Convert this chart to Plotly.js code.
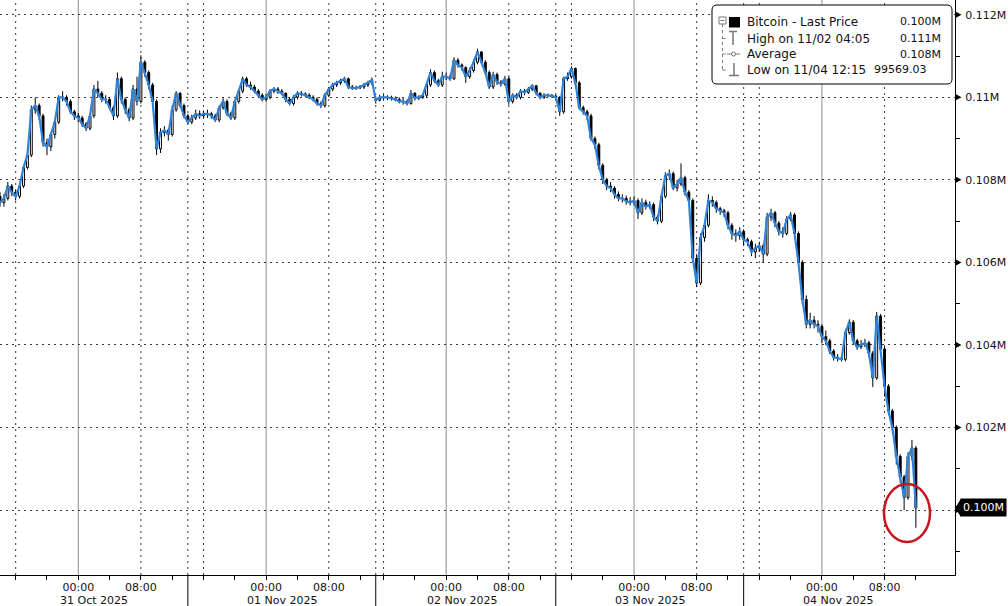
<!DOCTYPE html>
<html><head><meta charset="utf-8">
<script src="https://cdn.plot.ly/plotly-3.0.1.min.js"></script>
<style>html,body{margin:0;padding:0;background:#fff;}#chart{width:1008px;height:606px;}</style>
</head><body><div id="chart"></div>
<script>
// 30-minute bars, Bitcoin last price (USD thousands)
const barTimes = [
"2025-10-30 14:00","2025-10-30 14:30","2025-10-30 15:00","2025-10-30 15:30","2025-10-30 16:00","2025-10-30 16:30","2025-10-30 17:00","2025-10-30 17:30","2025-10-30 18:00","2025-10-30 18:30",
"2025-10-30 19:00","2025-10-30 19:30","2025-10-30 20:00","2025-10-30 20:30","2025-10-30 21:00","2025-10-30 21:30","2025-10-30 22:00","2025-10-30 22:30","2025-10-30 23:00","2025-10-30 23:30",
"2025-10-31 00:00","2025-10-31 00:30","2025-10-31 01:00","2025-10-31 01:30","2025-10-31 02:00","2025-10-31 02:30","2025-10-31 03:00","2025-10-31 03:30","2025-10-31 04:00","2025-10-31 04:30",
"2025-10-31 05:00","2025-10-31 05:30","2025-10-31 06:00","2025-10-31 06:30","2025-10-31 07:00","2025-10-31 07:30","2025-10-31 08:00","2025-10-31 08:30","2025-10-31 09:00","2025-10-31 09:30",
"2025-10-31 10:00","2025-10-31 10:30","2025-10-31 11:00","2025-10-31 11:30","2025-10-31 12:00","2025-10-31 12:30","2025-10-31 13:00","2025-10-31 13:30","2025-10-31 14:00","2025-10-31 14:30",
"2025-10-31 15:00","2025-10-31 15:30","2025-10-31 16:00","2025-10-31 16:30","2025-10-31 17:00","2025-10-31 17:30","2025-10-31 18:00","2025-10-31 18:30","2025-10-31 19:00","2025-10-31 19:30",
"2025-10-31 20:00","2025-10-31 20:30","2025-10-31 21:00","2025-10-31 21:30","2025-10-31 22:00","2025-10-31 22:30","2025-10-31 23:00","2025-10-31 23:30",
"2025-11-01 00:00","2025-11-01 00:30","2025-11-01 01:00","2025-11-01 01:30","2025-11-01 02:00","2025-11-01 02:30","2025-11-01 03:00","2025-11-01 03:30","2025-11-01 04:00","2025-11-01 04:30",
"2025-11-01 05:00","2025-11-01 05:30","2025-11-01 06:00","2025-11-01 06:30","2025-11-01 07:00","2025-11-01 07:30","2025-11-01 08:00","2025-11-01 08:30","2025-11-01 09:00","2025-11-01 09:30",
"2025-11-01 10:00","2025-11-01 10:30","2025-11-01 11:00","2025-11-01 11:30","2025-11-01 12:00","2025-11-01 12:30","2025-11-01 13:00","2025-11-01 13:30",
"2025-11-01 15:00","2025-11-01 15:30","2025-11-01 16:00","2025-11-01 16:30","2025-11-01 17:00","2025-11-01 17:30","2025-11-01 18:00","2025-11-01 18:30","2025-11-01 19:00","2025-11-01 19:30",
"2025-11-01 20:00","2025-11-01 20:30","2025-11-01 21:00","2025-11-01 21:30","2025-11-01 22:00","2025-11-01 22:30","2025-11-01 23:00","2025-11-01 23:30",
"2025-11-02 00:00","2025-11-02 00:30","2025-11-02 01:00","2025-11-02 01:30","2025-11-02 02:00","2025-11-02 02:30","2025-11-02 03:00","2025-11-02 03:30","2025-11-02 04:00","2025-11-02 04:30",
"2025-11-02 05:00","2025-11-02 05:30","2025-11-02 06:00","2025-11-02 06:30","2025-11-02 07:00","2025-11-02 07:30","2025-11-02 08:00","2025-11-02 08:30","2025-11-02 09:00","2025-11-02 09:30",
"2025-11-02 10:00","2025-11-02 10:30","2025-11-02 11:00","2025-11-02 11:30","2025-11-02 12:00","2025-11-02 12:30","2025-11-02 13:00","2025-11-02 13:30","2025-11-02 14:00","2025-11-02 14:30",
"2025-11-02 15:00","2025-11-02 15:30","2025-11-02 16:00","2025-11-02 16:30","2025-11-02 17:00","2025-11-02 17:30","2025-11-02 18:00","2025-11-02 18:30","2025-11-02 19:00","2025-11-02 19:30",
"2025-11-02 20:00","2025-11-02 20:30","2025-11-02 21:00","2025-11-02 21:30","2025-11-02 22:00","2025-11-02 22:30","2025-11-02 23:00","2025-11-02 23:30",
"2025-11-03 00:00","2025-11-03 00:30","2025-11-03 01:00","2025-11-03 01:30","2025-11-03 02:00","2025-11-03 02:30","2025-11-03 03:00","2025-11-03 03:30","2025-11-03 04:00","2025-11-03 04:30",
"2025-11-03 05:00","2025-11-03 05:30","2025-11-03 06:00","2025-11-03 06:30","2025-11-03 07:00","2025-11-03 07:30","2025-11-03 08:00","2025-11-03 08:30","2025-11-03 09:00","2025-11-03 09:30",
"2025-11-03 10:00","2025-11-03 10:30","2025-11-03 11:00","2025-11-03 11:30","2025-11-03 12:00","2025-11-03 12:30","2025-11-03 13:00","2025-11-03 13:30","2025-11-03 14:00","2025-11-03 14:30",
"2025-11-03 15:00","2025-11-03 15:30","2025-11-03 16:00","2025-11-03 16:30","2025-11-03 17:00","2025-11-03 17:30","2025-11-03 18:00","2025-11-03 18:30","2025-11-03 19:00","2025-11-03 19:30",
"2025-11-03 20:00","2025-11-03 20:30","2025-11-03 21:00","2025-11-03 21:30","2025-11-03 22:00","2025-11-03 22:30","2025-11-03 23:00","2025-11-03 23:30",
"2025-11-04 00:00","2025-11-04 00:30","2025-11-04 01:00","2025-11-04 01:30","2025-11-04 02:00","2025-11-04 02:30","2025-11-04 03:00","2025-11-04 03:30","2025-11-04 04:00","2025-11-04 04:30",
"2025-11-04 05:00","2025-11-04 05:30","2025-11-04 06:00","2025-11-04 06:30","2025-11-04 07:00","2025-11-04 07:30","2025-11-04 08:00","2025-11-04 08:30","2025-11-04 09:00","2025-11-04 09:30",
"2025-11-04 10:00","2025-11-04 10:30","2025-11-04 11:00","2025-11-04 11:30","2025-11-04 12:00"
];
const barOpen = [
107.6,107.45,107.55,107.85,107.7,107.6,107.85,108.3,108.6,109.7,
109.8,109.55,108.9,108.8,109.1,109.4,110.0,110.0,109.9,109.65,
109.55,109.5,109.35,109.25,109.55,110.2,110.1,109.95,109.95,109.75,
109.55,110.45,109.95,109.7,109.5,110.2,109.9,110.85,110.6,110.3,
109.9,108.75,109.15,109.2,109.1,109.7,110.1,109.8,109.55,109.4,
109.5,109.6,109.55,109.6,109.6,109.55,109.45,109.75,109.9,109.6,
109.5,109.9,110.15,110.45,110.3,110.25,110.15,110.05,109.95,110.0,
110.15,110.2,110.15,110.1,109.95,109.85,110.0,110.1,110.08,110.05,
110.0,109.95,109.85,109.8,110.05,110.2,110.3,110.35,110.4,110.45,
110.25,110.22,110.23,110.25,110.3,110.35,
109.95,109.93,110.0,110.0,110.0,109.97,109.95,109.9,109.9,109.85,
110.1,109.98,110.0,110.05,110.3,110.6,110.4,110.3,110.5,110.5,
110.45,110.9,110.78,110.72,110.5,110.65,110.85,111.1,110.85,110.6,
110.25,110.55,110.37,110.32,110.45,109.9,110.05,110.0,110.15,110.12,
110.2,110.28,110.1,110.0,110.05,110.05,110.03,110.0,109.65,110.45,
110.5,110.7,110.35,109.75,109.65,109.55,109.0,108.85,108.35,108.0,
107.85,107.8,107.65,107.55,107.55,107.48,107.45,107.5,107.2,107.45,
107.35,107.4,107.1,107.0,107.6,108.1,108.15,107.8,107.9,108.05,
107.7,107.5,106.1,105.5,106.6,106.9,107.5,107.45,107.3,107.25,
107.2,106.9,106.7,106.65,106.75,106.55,106.5,106.25,106.35,106.4,
106.2,107.1,107.2,106.95,106.75,106.7,107.05,107.15,106.7,106.0,
105.1,104.5,104.6,104.5,104.45,104.2,104.1,103.85,103.7,103.68,
103.65,104.3,104.55,104.1,103.95,104.0,104.05,103.8,103.2,104.7,
103.9,103.0,102.4,102.0,101.3,100.8,100.3,101.3,101.5
];
const barHigh = [
107.7,107.65,107.95,107.9,107.75,107.9,108.35,108.7,109.8,110.0,
109.85,109.6,109.0,109.15,109.45,110.05,110.15,110.05,109.95,109.7,
109.62,109.55,109.4,109.6,110.3,110.4,110.15,110.05,110.0,109.8,
110.6,110.5,110.0,109.75,110.3,110.5,111.02,110.9,110.65,110.35,
109.95,109.25,109.3,109.25,109.8,110.15,110.12,109.85,109.6,109.58,
109.7,109.68,109.68,109.7,109.65,109.6,109.8,109.98,109.95,109.65,
109.95,110.2,110.5,110.5,110.38,110.3,110.2,110.1,110.08,110.2,
110.25,110.25,110.2,110.12,110.0,110.05,110.15,110.15,110.12,110.1,
110.05,110.0,109.9,110.1,110.25,110.35,110.4,110.45,110.5,110.48,
110.3,110.28,110.3,110.35,110.4,110.48,
110.02,110.06,110.06,110.05,110.04,110.02,110.0,109.98,109.95,110.18,
110.12,110.05,110.1,110.35,110.68,110.65,110.45,110.62,110.6,110.55,
110.97,110.95,110.82,110.75,110.72,110.92,111.18,111.12,110.9,110.65,
110.62,110.6,110.42,110.52,110.5,110.1,110.1,110.2,110.2,110.25,
110.32,110.3,110.12,110.1,110.09,110.08,110.06,110.03,110.5,110.6,
110.75,110.72,110.4,109.8,109.7,109.6,109.05,108.9,108.4,108.05,
107.95,107.85,107.72,107.65,107.62,107.58,107.6,107.55,107.55,107.52,
107.48,107.45,107.15,107.68,108.18,108.25,108.2,108.0,108.4,108.1,
107.75,107.55,106.2,106.7,107.0,107.65,107.6,107.5,107.35,107.3,
107.25,106.95,106.8,106.85,106.8,106.6,106.55,106.45,106.5,106.45,
107.2,107.3,107.25,107.0,106.85,107.12,107.22,107.2,106.75,106.05,
105.2,104.78,104.7,104.6,104.5,104.35,104.15,103.9,103.78,103.75,
104.38,104.62,104.6,104.15,104.12,104.15,104.1,103.85,104.8,104.75,
103.95,103.05,102.45,102.05,101.35,100.85,101.4,101.7,101.55
];
const barLow = [
107.35,107.35,107.5,107.6,107.5,107.55,107.8,108.25,108.55,109.6,
109.45,108.8,108.6,108.7,109.0,109.35,109.9,109.8,109.6,109.45,
109.4,109.28,109.18,109.2,109.5,110.0,109.88,109.85,109.7,109.45,
109.5,109.85,109.6,109.42,109.45,109.8,109.85,110.5,110.2,109.8,
108.6,108.65,109.05,108.95,109.05,109.65,109.75,109.5,109.35,109.35,
109.45,109.48,109.5,109.5,109.48,109.4,109.4,109.7,109.55,109.45,
109.45,109.85,110.1,110.25,110.18,110.1,110.0,109.9,109.9,109.95,
110.1,110.08,110.05,109.88,109.8,109.8,109.95,110.02,110.0,109.95,
109.9,109.8,109.74,109.75,110.0,110.15,110.25,110.3,110.35,110.2,
110.18,110.18,110.2,110.2,110.25,110.3,
109.85,109.9,109.94,109.93,109.92,109.9,109.85,109.82,109.8,109.82,
109.92,109.93,109.96,110.0,110.25,110.35,110.25,110.25,110.42,110.4,
110.42,110.72,110.65,110.35,110.45,110.6,110.8,110.8,110.55,110.2,
110.2,110.3,110.26,110.28,109.82,109.85,109.95,109.95,110.05,110.08,
110.15,110.05,109.95,109.96,110.0,109.99,109.96,109.55,109.6,110.4,
110.45,110.3,109.7,109.58,109.45,108.95,108.75,108.25,107.9,107.75,
107.7,107.55,107.48,107.45,107.4,107.38,107.38,107.05,107.15,107.28,
107.3,107.0,106.92,106.95,107.55,108.0,107.75,107.72,107.85,107.62,
107.42,106.0,105.4,105.45,106.5,106.85,107.35,107.2,107.15,107.1,
106.8,106.55,106.5,106.55,106.4,106.4,106.15,106.1,106.25,106.0,
106.15,107.0,106.85,106.65,106.6,106.65,107.0,106.6,105.9,105.0,
104.4,104.4,104.4,104.3,104.05,104.0,103.78,103.62,103.6,103.6,
103.6,104.25,104.02,103.88,103.9,103.95,103.7,102.98,103.15,103.85,
102.75,102.3,101.85,101.1,100.65,100.0,100.25,101.2,99.57
];
const barClose = [
107.45,107.55,107.85,107.7,107.6,107.85,108.3,108.6,109.7,109.8,
109.55,108.9,108.8,109.1,109.4,110.0,110.0,109.9,109.65,109.55,
109.5,109.35,109.25,109.55,110.2,110.1,109.95,109.95,109.75,109.55,
110.45,109.95,109.7,109.5,110.2,109.9,110.85,110.6,110.3,109.9,
108.75,109.15,109.2,109.1,109.7,110.1,109.8,109.55,109.4,109.5,
109.6,109.55,109.6,109.6,109.55,109.45,109.75,109.9,109.6,109.5,
109.9,110.15,110.45,110.3,110.25,110.15,110.05,109.95,110.0,110.15,
110.2,110.15,110.1,109.95,109.85,110.0,110.1,110.08,110.05,110.0,
109.95,109.85,109.8,110.05,110.2,110.3,110.35,110.4,110.45,110.25,
110.22,110.23,110.25,110.3,110.35,110.42,
109.93,110.0,110.0,110.0,109.97,109.95,109.9,109.9,109.85,110.1,
109.98,110.0,110.05,110.3,110.6,110.4,110.3,110.5,110.5,110.45,
110.9,110.78,110.72,110.5,110.65,110.85,111.1,110.85,110.6,110.25,
110.55,110.37,110.32,110.45,109.9,110.05,110.0,110.15,110.12,110.2,
110.28,110.1,110.0,110.05,110.05,110.03,110.0,109.65,110.45,110.5,
110.7,110.35,109.75,109.65,109.55,109.0,108.85,108.35,108.0,107.85,
107.8,107.65,107.55,107.55,107.48,107.45,107.5,107.2,107.45,107.35,
107.4,107.1,107.0,107.6,108.1,108.15,107.8,107.9,108.05,107.7,
107.5,106.1,105.5,106.6,106.9,107.5,107.45,107.3,107.25,107.2,
106.9,106.7,106.65,106.75,106.55,106.5,106.25,106.35,106.4,106.2,
107.1,107.2,106.95,106.75,106.7,107.05,107.15,106.7,106.0,105.1,
104.5,104.6,104.5,104.45,104.2,104.1,103.85,103.7,103.68,103.65,
104.3,104.55,104.1,103.95,104.0,104.05,103.8,103.2,104.7,103.9,
103.0,102.4,102.0,101.3,100.8,100.3,101.3,101.5,100.05
];

// Axis ticks and labels
const xTickVals = ["2025-10-30 16:00","2025-10-30 20:00",
"2025-10-31 00:00","2025-10-31 04:00","2025-10-31 08:00","2025-10-31 12:00","2025-10-31 16:00","2025-10-31 20:00",
"2025-11-01 00:00","2025-11-01 04:00","2025-11-01 08:00","2025-11-01 12:00","2025-11-01 16:00","2025-11-01 20:00",
"2025-11-02 00:00","2025-11-02 04:00","2025-11-02 08:00","2025-11-02 12:00","2025-11-02 16:00","2025-11-02 20:00",
"2025-11-03 00:00","2025-11-03 04:00","2025-11-03 08:00","2025-11-03 12:00","2025-11-03 16:00","2025-11-03 20:00",
"2025-11-04 00:00","2025-11-04 04:00","2025-11-04 08:00","2025-11-04 12:00"];
const xTickText = ["","",
"00:00","","08:00","","","",
"00:00","","08:00","","","",
"00:00","","08:00","","","",
"00:00","","08:00","","","",
"00:00","","08:00",""];
const dayStarts = ["2025-10-31 00:00","2025-11-01 00:00","2025-11-02 00:00","2025-11-03 00:00","2025-11-04 00:00"];
const dottedTimes = ["2025-10-30 16:00","2025-10-31 08:00","2025-10-31 16:00","2025-11-01 08:00","2025-11-01 16:00",
"2025-11-02 08:00","2025-11-02 16:00","2025-11-03 08:00","2025-11-03 16:00","2025-11-04 08:00"];
const separators = ["2025-10-31 14:00","2025-11-01 14:00","2025-11-02 14:00","2025-11-03 14:00"];
const dateLabels = ["31 Oct 2025","01 Nov 2025","02 Nov 2025","03 Nov 2025","04 Nov 2025"];
const dateLabelPos = ["2025-10-31 02:00","2025-11-01 02:00","2025-11-02 02:00","2025-11-03 02:00","2025-11-04 02:00"];
const yTickVals = [100,102,104,106,108,110,112];
const yTickText = ["0.100M","0.102M","0.104M","0.106M","0.108M","0.11M","0.112M"];
const yMinorVals = [99,101,103,105,107,109,111];
const legendLabels = ["Bitcoin - Last Price","High on 11/02 04:05","Average","Low on 11/04 12:15"];
const legendValues = ["0.100M","0.111M","0.108M","99569.03"];
const lastPriceLabel = "0.100M";

// ---- layout helpers (plot area 955 x 575 px) ----
const W = 955, H = 575;
const px = v => v / W, py = v => 1 - v / H;
const lastClose = barClose[barClose.length - 1];
const shapes = [];
const grid = {color:'#3c3c3c', width:1, dash:'2px,4px'};
dayStarts.forEach(t => shapes.push({type:'line', xref:'x', yref:'paper', x0:t, x1:t, y0:0, y1:1, layer:'below', line:{color:'#8c8c8c', width:1}}));
dottedTimes.concat(separators).forEach(t => shapes.push({type:'line', xref:'x', yref:'paper', x0:t, x1:t, y0:0, y1:1, layer:'below', line:grid}));
separators.forEach(t => shapes.push({type:'line', xref:'x', yref:'paper', x0:t, x1:t, y0:-31/H, y1:0, line:{color:'#000', width:1}}));

// tick pointers on the price axis
const yPtr = 3.5 / 41.27;
yTickVals.forEach(v => shapes.push({type:'path', xref:'paper', yref:'y',
  path:'M'+px(955)+','+(v+yPtr)+' L'+px(961.5)+','+v+' L'+px(955)+','+(v-yPtr)+' Z', fillcolor:'#000', line:{width:0}}));

// legend box (rounded)
function rr(x0,y0,x1,y1,r){
  const P=(x,y)=>px(x)+','+py(y);
  return 'M'+P(x0+r,y0)+' L'+P(x1-r,y0)+' Q'+P(x1,y0)+' '+P(x1,y0+r)+' L'+P(x1,y1-r)+' Q'+P(x1,y1)+' '+P(x1-r,y1)+
         ' L'+P(x0+r,y1)+' Q'+P(x0,y1)+' '+P(x0,y1-r)+' L'+P(x0,y0+r)+' Q'+P(x0,y0)+' '+P(x0+r,y0)+' Z';
}
shapes.push({type:'path', xref:'paper', yref:'paper', path:rr(712,5,952,84,5), fillcolor:'#fff', line:{color:'#000', width:1}});
const L = (x0,y0,x1,y1,c,w,d) => shapes.push({type:'line', xref:'paper', yref:'paper', x0:px(x0), x1:px(x1), y0:py(y0), y1:py(y1), line:{color:c, width:w, dash:d||'solid'}});
const gray = '#777';
L(722.5,24,722.5,70,gray,1,'dot');
L(722.5,38.5,727,38.5,gray,1,'dot');
L(722.5,54,727,54,gray,1,'dot');
L(722.5,70,727,70,gray,1,'dot');
shapes.push({type:'rect', xref:'paper', yref:'paper', x0:px(719), x1:px(726), y0:py(24), y1:py(17), fillcolor:'#fff', line:{color:gray, width:1}});
L(720.5,20.5,724.5,20.5,gray,1);
shapes.push({type:'rect', xref:'paper', yref:'paper', x0:px(729), x1:px(740), y0:py(27.5), y1:py(17), fillcolor:'#000', line:{color:'#000', width:0}});
L(729,31.5,737,31.5,gray,1.5); L(733,31.5,733,45,gray,1.5);
L(727,54,740,54,gray,1);
shapes.push({type:'circle', xref:'paper', yref:'paper', x0:px(731.5), x1:px(735.5), y0:py(56), y1:py(52), fillcolor:'#fff', line:{color:gray, width:1}});
L(734,63,734,75.5,gray,1.5); L(729,75.5,739,75.5,gray,1.5);
// red highlight circle
shapes.push({type:'circle', xref:'paper', yref:'paper', x0:px(884), x1:px(930), y0:py(542), y1:py(484), line:{color:'#c8141c', width:2.5}});
// last price pointer
shapes.push({type:'path', xref:'paper', yref:'y', path:'M'+px(955)+','+lastClose+' L'+px(961)+','+(lastClose+0.22)+' L'+px(961)+','+(lastClose-0.22)+' Z', fillcolor:'#000', line:{width:0}});

const annotations = [];
const F = 'DejaVu Sans';
const rowsY = [22, 38.5, 54, 70];
legendLabels.forEach((t,i) => annotations.push({xref:'paper', yref:'paper', x:px(745), y:py(rowsY[i]), xanchor:'left', yanchor:'middle', text:t, showarrow:false, font:{family:F, size:12, color:'#111'}}));
legendValues.forEach((t,i) => annotations.push({xref:'paper', yref:'paper', x:px(i===3?929:943), y:py(rowsY[i]), xanchor:'right', yanchor:'middle', text:t, showarrow:false, font:{family:F, size:11, color:'#111'}}));
dateLabels.forEach((t,i) => annotations.push({xref:'x', yref:'paper', x:dateLabelPos[i], y:py(600.5), xanchor:'center', yanchor:'middle', text:t, showarrow:false, font:{family:F, size:11, color:'#111'}}));
annotations.push({xref:'paper', yref:'y', x:px(960), y:lastClose, xanchor:'left', yanchor:'middle', text:lastPriceLabel, showarrow:false, bgcolor:'#000', borderpad:2, font:{family:F, size:11, color:'#fff'}});

const traces = [
  {type:'scatter', mode:'lines', x:barTimes, y:barClose, line:{color:'#2f83da', width:2.2}, hoverinfo:'skip', showlegend:false},
  {type:'candlestick', x:barTimes, open:barOpen, high:barHigh, low:barLow, close:barClose,
   increasing:{line:{color:'#000', width:1}, fillcolor:'#ffffff'},
   decreasing:{line:{color:'#000', width:1}, fillcolor:'#000000'},
   whiskerwidth:0, hoverinfo:'skip', showlegend:false}
];

const layout = {
  width:1008, height:606,
  margin:{l:0, r:53, t:0, b:31, pad:0},
  paper_bgcolor:'#fff', plot_bgcolor:'#fff',
  showlegend:false,
  font:{family:F, size:12, color:'#111'},
  xaxis:{type:'date', range:['2025-10-30 14:00','2025-11-04 17:00'],
    rangebreaks:[{values:['2025-11-01 14:00:00'], dvalue:3600000}],
    rangeslider:{visible:false}, showgrid:false, zeroline:false,
    tickmode:'array', tickvals:xTickVals, ticktext:xTickText,
    ticks:'outside', ticklen:4, tickcolor:'#000', showline:true, linecolor:'#000', linewidth:1,
    ticklabelstandoff:-2,
    tickfont:{family:F, size:11, color:'#111'}, fixedrange:true},
  yaxis:{side:'right', range:[98.425,112.358], tickmode:'array', tickvals:yTickVals,
    ticktext:yTickText.map(t => t === lastPriceLabel ? '' : t),
    showgrid:true, gridcolor:'#3c3c3c', griddash:'2px,4px', gridwidth:1,
    showline:true, linecolor:'#000', linewidth:1, ticks:'outside', ticklen:7, tickcolor:'rgba(0,0,0,0)', zeroline:false,
    minor:{tickvals:yMinorVals, ticks:'outside', ticklen:4, tickcolor:'#000', showgrid:false},
    tickfont:{family:F, size:11, color:'#111'}, fixedrange:true},
  shapes:shapes, annotations:annotations
};
Plotly.newPlot('chart', traces, layout, {displayModeBar:false, staticPlot:true});
</script>
</body></html>
